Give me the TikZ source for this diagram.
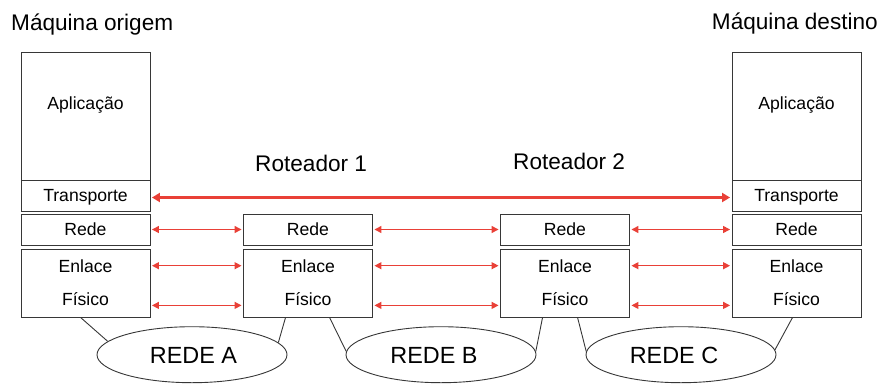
\documentclass[tikz,border=0pt]{standalone}
\usepackage{fontspec}
\setmainfont{Liberation Sans}
\usetikzlibrary{arrows.meta,shapes.geometric,calc}
\definecolor{vermelho}{RGB}{233,64,55}
\definecolor{contorno}{RGB}{55,55,55}

\begin{document}
\begin{tikzpicture}[x=1pt, y=-1pt,
    caixa/.style={draw=contorno, line width=0.9pt, minimum width=129pt, inner sep=0pt,
        font=\fontsize{17.6}{21}\selectfont, text height=12.6pt, text depth=0pt},
    rotulo/.style={font=\fontsize{17.6}{21}\selectfont, text height=12.6pt, text depth=0pt, inner sep=0pt},
    titulo/.style={font=\fontsize{22.6}{27}\selectfont, inner sep=0pt},
    nuvem/.style={ellipse, draw=contorno, line width=0.9pt, minimum width=190pt, minimum height=56pt, inner sep=0pt},
    nomerede/.style={font=\fontsize{23.4}{28}\selectfont, text height=16.8pt, text depth=0pt, inner sep=0pt},
    duplo/.style={vermelho, line width=1.3pt, {Triangle[length=7pt,width=7pt]}-{Triangle[length=7pt,width=7pt]},
        shorten <=1.5pt, shorten >=1.5pt},
    fio/.style={contorno, line width=0.9pt}]
    \useasboundingbox (0,0) rectangle (883,383);

    % maquina origem
    \node[caixa, minimum height=128pt] (apmo) at (85.5,116) {};
    \node[rotulo] (tapmo) at (85.5,102.7) {Aplicação};
    \node[caixa, minimum height=31pt] (trmo) at (85.5,195.5) {Transporte};
    \node[caixa, minimum height=31pt] (rdmo) at (85.5,229.5) {Rede};
    \node[caixa, minimum height=68pt] (lkmo) at (85.5,283) {};
    \node[rotulo] (enmo) at (85.5,265.7) {Enlace};
    \node[rotulo] (fimo) at (85.5,299.4) {Físico};

    % roteador 1
    \node[caixa, minimum height=31pt] (rdr1) at (308,229.5) {Rede};
    \node[caixa, minimum height=68pt] (lkr1) at (308,283) {};
    \node[rotulo] (enr1) at (308,265.7) {Enlace};
    \node[rotulo] (fir1) at (308,299.4) {Físico};

    % roteador 2
    \node[caixa, minimum height=31pt] (rdr2) at (565,229.5) {Rede};
    \node[caixa, minimum height=68pt] (lkr2) at (565,283) {};
    \node[rotulo] (enr2) at (565,265.7) {Enlace};
    \node[rotulo] (fir2) at (565,299.4) {Físico};

    % maquina destino
    \node[caixa, minimum height=128pt] (apmd) at (796.5,116) {};
    \node[rotulo] (tapmd) at (796.5,102.7) {Aplicação};
    \node[caixa, minimum height=31pt] (trmd) at (796.5,195.5) {Transporte};
    \node[caixa, minimum height=31pt] (rdmd) at (796.5,229.5) {Rede};
    \node[caixa, minimum height=68pt] (lkmd) at (796.5,283) {};
    \node[rotulo] (enmd) at (796.5,265.7) {Enlace};
    \node[rotulo] (fimd) at (796.5,299.4) {Físico};

    \node[titulo, anchor=base west] (tmo) at (11,30.7) {Máquina origem};
    \node[titulo, anchor=base east] (tmd) at (878,29.3) {Máquina destino};
    \node[titulo, anchor=base west] (tr1) at (255,171.7) {Roteador 1};
    \node[titulo, anchor=base west] (tr2) at (513,169.3) {Roteador 2};

    % redes
    \node[nuvem, label={[nomerede, xshift=1.5pt]center:REDE A}] (redeA) at (192,354.7) {};
    \node[nuvem, label={[nomerede, xshift=-7pt]center:REDE B}] (redeB) at (441,354.7) {};
    \node[nuvem, label={[nomerede, xshift=-7pt]center:REDE C}] (redeC) at (681,354.7) {};

    \draw[fio] ([xshift=60pt]lkmo.south west) -- (redeA.171);
    \draw[fio] ([xshift=42.5pt]lkr1.south west) -- (redeA.8);
    \draw[fio] ([xshift=86.5pt]lkr1.south west) -- (redeB.178);
    \draw[fio] ([xshift=42.5pt]lkr2.south west) -- (redeB.2);
    \draw[fio] ([xshift=77.5pt]lkr2.south west) -- (redeC.178);
    \draw[fio] ([xshift=61pt]lkmd.south west) -- (redeC.3);

    % setas
    \draw[duplo, line width=2.4pt, {Triangle[length=8pt,width=9pt]}-{Triangle[length=8pt,width=9pt]}]
        ($(trmo.east)+(0,2)$) -- ($(trmd.west)+(0,2)$);
    \draw[duplo] (rdmo.east) -- (rdr1.west);
    \draw[duplo] (rdr1.east) -- (rdr2.west);
    \draw[duplo] (rdr2.east) -- (rdmd.west);
    \draw[duplo] (enmo -| lkmo.east) -- (enr1 -| lkr1.west);
    \draw[duplo] (enr1 -| lkr1.east) -- (enr2 -| lkr2.west);
    \draw[duplo] (enr2 -| lkr2.east) -- (enmd -| lkmd.west);
    \draw[duplo] ($(fimo -| lkmo.east)+(0,6)$) -- ($(fir1 -| lkr1.west)+(0,6)$);
    \draw[duplo] ($(fir1 -| lkr1.east)+(0,6)$) -- ($(fir2 -| lkr2.west)+(0,6)$);
    \draw[duplo] ($(fir2 -| lkr2.east)+(0,6)$) -- ($(fimd -| lkmd.west)+(0,6)$);
\end{tikzpicture}
\end{document}
